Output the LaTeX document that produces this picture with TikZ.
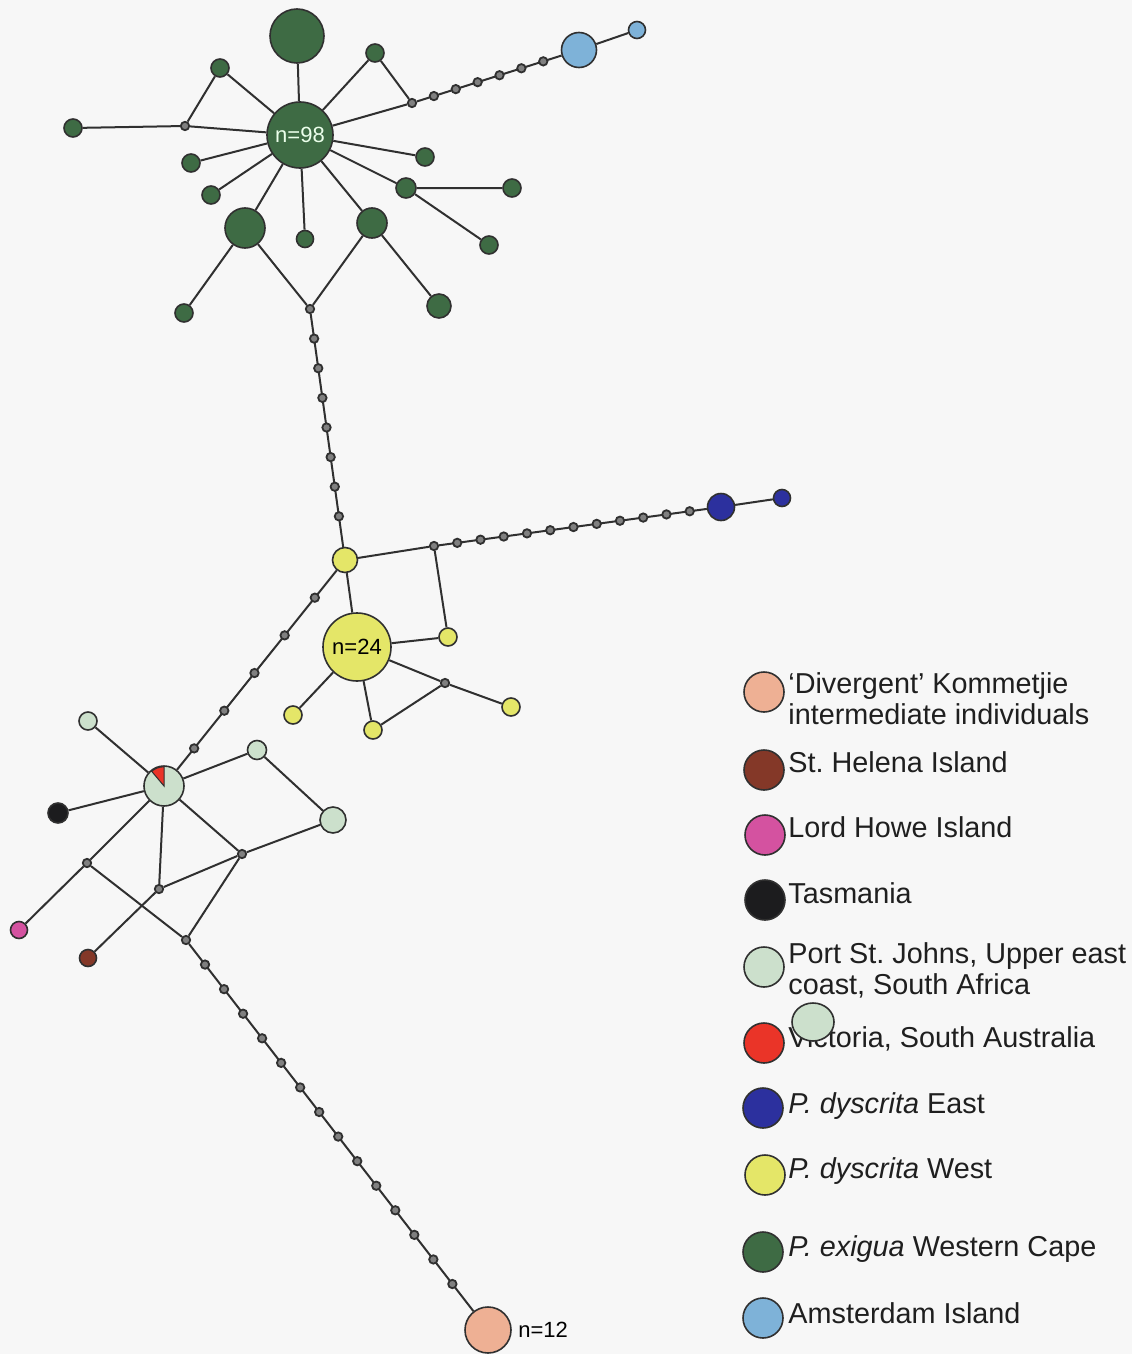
\documentclass[tikz,border=0pt]{standalone}
\usepackage{fontspec}
\setmainfont{Liberation Sans}
\usetikzlibrary{calc,shapes.geometric}
\frenchspacing

\definecolor{paper}{RGB}{247,247,247}
\definecolor{exigua}{RGB}{62,107,68}
\definecolor{dysW}{RGB}{228,230,104}
\definecolor{dysE}{RGB}{44,48,158}
\definecolor{amst}{RGB}{126,178,216}
\definecolor{psj}{RGB}{204,224,204}
\definecolor{vic}{RGB}{234,52,40}
\definecolor{tasm}{RGB}{28,28,30}
\definecolor{lhi}{RGB}{212,82,160}
\definecolor{sth}{RGB}{132,56,40}
\definecolor{kom}{RGB}{238,176,148}
\definecolor{ink}{RGB}{48,48,48}

\tikzset{
	edge/.style={draw=ink, line width=1pt},
	hap/.style={circle, draw=ink, line width=0.8pt, inner sep=0pt, minimum size=#1},
	mv/.style={circle, draw=ink, fill=black!50, line width=0.9pt, inner sep=0pt, minimum size=4.2pt},
	key/.style={anchor=base west, inner sep=0pt, font=\fontsize{14.4}{16}\selectfont, text=black!88},
	count/.style={font=\fontsize{11}{12}\selectfont, inner sep=0pt},
}

% straight line of missing haplotypes between two nodes
\newcommand{\mvchain}[4]{%
	\draw[edge] (#1) -- (#2);
	\foreach \k in {1,...,#3}
		\node[mv] (#1-#2-\k) at ($(#1)!\k*#4!(#2)$) {};
}

\begin{document}
\begin{tikzpicture}[x=0.5pt, y=-0.5pt]
			%%%%% START %%%%%
			
			\fill[paper] (0,0) rectangle (1132,1354);
			\useasboundingbox (0,0) rectangle (1132,1354);
			
			%% P. exigua
			\node[hap=33pt, fill=exigua, count, text=white!92!green] (g98) at (300,135) {n=98};
			\node[hap=27pt, fill=exigua] (gtop) at (297,36) {};
			\node[hap=9pt, fill=exigua] (ga) at (220,68) {};
			\node[mv] (j1) at (185,126) {};
			\node[hap=9pt, fill=exigua] (gl) at (73,128) {};
			\node[hap=9pt, fill=exigua] (gb) at (375,53) {};
			\node[mv] (j2) at (412,103) {};
			\node[hap=9pt, fill=exigua] (gr1) at (425,157) {};
			\node[hap=10pt, fill=exigua] (gr2) at (406,188) {};
			\node[hap=9pt, fill=exigua] (gr3) at (512,188) {};
			\node[hap=9pt, fill=exigua] (gr4) at (489,245) {};
			\node[hap=9pt, fill=exigua] (gl1) at (191,163) {};
			\node[hap=9pt, fill=exigua] (gl2) at (211,195) {};
			\node[hap=20pt, fill=exigua] (gl3) at (245,228) {};
			\node[hap=8.5pt, fill=exigua] (gm) at (305,239) {};
			\node[hap=15pt, fill=exigua] (gr5) at (372,223) {};
			\node[hap=9pt, fill=exigua] (gl4) at (184,313) {};
			\node[hap=12pt, fill=exigua] (gr6) at (439,306) {};
			\node[mv] (j3) at (310,309) {};
			
			\draw[edge] (g98) -- (gtop);
			\draw[edge] (g98) -- (ga) -- (j1) -- (gl);
			\draw[edge] (j1) -- (g98);
			\draw[edge] (g98) -- (gb) -- (j2) -- (g98);
			\draw[edge] (g98) -- (gr1);
			\draw[edge] (g98) -- (gr2) -- (gr3);
			\draw[edge] (gr2) -- (gr4);
			\draw[edge] (g98) -- (gl1);
			\draw[edge] (g98) -- (gl2);
			\draw[edge] (g98) -- (gl3) -- (gl4);
			\draw[edge] (g98) -- (gm);
			\draw[edge] (g98) -- (gr5) -- (gr6);
			\draw[edge] (gl3) -- (j3) -- (gr5);
			
			%% Amsterdam Island
			\node[hap=17.5pt, fill=amst] (amb) at (579,50) {};
			\node[hap=8.5pt, fill=amst] (ams) at (637,30) {};
			\mvchain{j2}{amb}{6}{0.131}
			\draw[edge] (amb) -- (ams);
			
			%% P. dyscrita West
			\node[hap=12.5pt, fill=dysW] (y1) at (345,560) {};
			\node[mv] (jy1) at (434,546) {};
			\node[hap=9pt, fill=dysW] (yb) at (448,637) {};
			\node[hap=34pt, fill=dysW, count] (y24) at (357,647) {n=24};
			\node[hap=9pt, fill=dysW] (yl) at (293,715) {};
			\node[hap=9pt, fill=dysW] (yc) at (373,730) {};
			\node[mv] (jy2) at (445,683) {};
			\node[hap=9pt, fill=dysW] (yr) at (511,707) {};
			
			\mvchain{j3}{y1}{7}{0.118}
			\draw[edge] (y1) -- (jy1) -- (yb) -- (y24) -- (y1);
			\draw[edge] (y24) -- (yl);
			\draw[edge] (y24) -- (yc) -- (jy2) -- (y24);
			\draw[edge] (jy2) -- (yr);
			
			%% P. dyscrita East
			\node[hap=13.5pt, fill=dysE] (bb) at (721,507) {};
			\node[hap=8.5pt, fill=dysE] (bs) at (782,498) {};
			\mvchain{jy1}{bb}{11}{0.081}
			\draw[edge] (bb) -- (bs);
			
			%% Port St. Johns group
			\node[hap=20pt, fill=psj] (pie) at (164,786) {};
			\fill[vic, draw=ink, line width=0.5pt] (pie.center) -- ++(90:9.6pt) arc[start angle=90, end angle=130, radius=9.6pt] -- cycle;
			\node[hap=9pt, fill=psj] (p1) at (88,721) {};
			\node[hap=9.5pt, fill=psj] (p2) at (257,750) {};
			\node[hap=13pt, fill=psj] (p3) at (333,820) {};
			\node[hap=10pt, fill=tasm] (tas) at (58,813) {};
			\node[hap=8.5pt, fill=lhi] (pink) at (19,930) {};
			\node[hap=8.5pt, fill=sth] (brown) at (88,958) {};
			\node[mv] (ja) at (87,863) {};
			\node[mv] (jb) at (159,889) {};
			\node[mv] (jc) at (242,854) {};
			\node[mv] (jd) at (186,940) {};
			
			\mvchain{y1}{pie}{5}{0.1667}
			\draw[edge] (pie) -- (p1);
			\draw[edge] (pie) -- (p2) -- (p3);
			\draw[edge] (pie) -- (tas);
			\draw[edge] (pie) -- (ja) -- (pink);
			\draw[edge] (ja) -- (jd);
			\draw[edge] (pie) -- (jb) -- (brown);
			\draw[edge] (jb) -- (jc);
			\draw[edge] (pie) -- (jc) -- (p3);
			\draw[edge] (jc) -- (jd);
			
			%% Divergent Kommetjie
			\node[hap=23pt, fill=kom] (n12) at (488,1330) {};
			\node[count, anchor=west] (n12lab) at (n12.east) {~n=12};
			\mvchain{jd}{n12}{14}{0.063}
			
			%% key
			\node[hap=20pt, fill=kom] (kKom) at (764,692) {};
			\node[key] (tKom) at (788,693) {`Divergent' Kommetjie};
			\node[key] (tKomb) at (788,724) {intermediate individuals};
			\node[hap=20pt, fill=sth] (kSth) at (764,770) {};
			\node[key] (tSth) at (788,772) {St. Helena Island};
			\node[hap=20pt, fill=lhi] (kLhi) at (765,835) {};
			\node[key] (tLhi) at (788,837) {Lord Howe Island};
			\node[hap=20pt, fill=tasm] (kTas) at (765,900) {};
			\node[key] (tTas) at (788,903) {Tasmania};
			\node[hap=20pt, fill=psj] (kPsj) at (764,967) {};
			\node[key] (tPsj) at (788,963) {Port St. Johns, Upper east};
			\node[key] (tPsjb) at (788,994) {coast, South Africa};
			\node[hap=20pt, fill=vic] (kVic) at (764,1043) {};
			\node[key] (tVic) at (788,1047) {Victoria, South Australia};
			\node[ellipse, draw=ink, line width=0.8pt, fill=psj, inner sep=0pt, minimum width=21pt, minimum height=19pt] (kStray) at (813,1022) {};
			\node[hap=20pt, fill=dysE] (kE) at (763,1108) {};
			\node[key] (tE) at (788,1113) {\textit{P. dyscrita} East};
			\node[hap=20pt, fill=dysW] (kW) at (765,1175) {};
			\node[key] (tW) at (788,1178) {\textit{P. dyscrita} West};
			\node[hap=20pt, fill=exigua] (kEx) at (763,1252) {};
			\node[key] (tEx) at (788,1256) {\textit{P. exigua} Western Cape};
			\node[hap=20pt, fill=amst] (kAm) at (763,1318) {};
			\node[key] (tAm) at (788,1323) {Amsterdam Island};
			
			%%%%% END %%%%%
\end{tikzpicture}
\end{document}
